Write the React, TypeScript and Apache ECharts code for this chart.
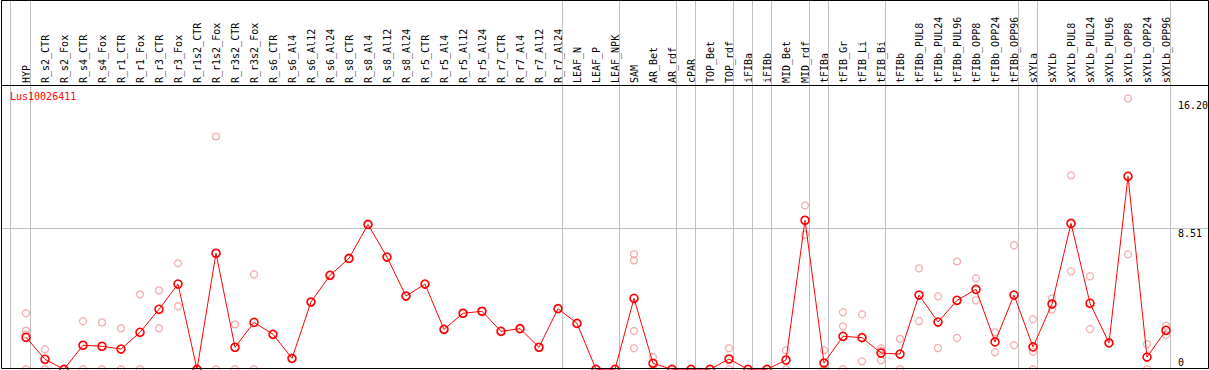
import React, { useEffect, useRef } from "react";
import * as echarts from "echarts";

const TITLE = "Lus10026411";

const CATEGORIES = [
  "HYP", "R_s2_CTR", "R_s2_Fox", "R_s4_CTR", "R_s4_Fox", "R_r1_CTR", "R_r1_Fox", "R_r3_CTR", "R_r3_Fox",
  "R_r1s2_CTR", "R_r1s2_Fox", "R_r3s2_CTR", "R_r3s2_Fox", "R_s6_CTR", "R_s6_Al4", "R_s6_Al12", "R_s6_Al24",
  "R_s8_CTR", "R_s8_Al4", "R_s8_Al12", "R_s8_Al24", "R_r5_CTR", "R_r5_Al4", "R_r5_Al12", "R_r5_Al24",
  "R_r7_CTR", "R_r7_Al4", "R_r7_Al12", "R_r7_Al24", "LEAF_N", "LEAF_P", "LEAF_NPK", "SAM", "AR_Bet", "AR_rdf",
  "cPAR", "TOP_Bet", "TOP_rdf", "iFIBa", "iFIBb", "MID_Bet", "MID_rdf", "tFIBa", "tFIB_Gr", "tFIB_Li", "tFIB_Bi",
  "tFIBb", "tFIBb_PUL8", "tFIBb_PUL24", "tFIBb_PUL96", "tFIBb_OPP8", "tFIBb_OPP24", "tFIBb_OPP96",
  "sXYLa", "sXYLb", "sXYLb_PUL8", "sXYLb_PUL24", "sXYLb_PUL96", "sXYLb_OPP8", "sXYLb_OPP24", "sXYLb_OPP96",
];

const MEANS = [
  1.93, 0.6, 0, 1.45, 1.39, 1.22, 2.23, 3.62, 5.14, 0,
  7.0, 1.33, 2.83, 2.11, 0.66, 4.06, 5.67, 6.69, 8.74, 6.77,
  4.42, 5.14, 2.41, 3.38, 3.5, 2.29, 2.45, 1.33, 3.66, 2.77,
  0, 0, 4.28, 0.36, 0, 0, 0, 0.62, 0, 0,
  0.56, 8.99, 0.38, 1.99, 1.91, 0.98, 0.92, 4.48, 2.85, 4.16,
  4.82, 1.65, 4.48, 1.35, 3.94, 8.8, 3.98, 1.59, 11.64, 0.74, 2.35,
];

const REPLICATES: number[][] = [
  [3.38, 2.33, 2.1, 0], [1.21, 0], [0, 0], [2.9, 0], [2.83, 0], [2.47, 0], [4.52, 0], [4.76, 2.47], [6.39, 3.8], [0, 0],
  [14.05, 0], [2.71, 0], [5.73, 0], [2.11], [0.66], [4.06], [5.67], [6.69], [8.74], [6.77],
  [4.42], [5.14], [2.41], [3.38], [3.5], [2.29], [2.45], [1.33], [3.66], [2.77],
  [0], [0], [6.95, 6.57, 2.31, 1.27], [0.74, 0], [0], [0], [0], [1.27, 0], [0], [0],
  [1.15, 0], [9.89, 8.12], [1.16, 0, 0], [3.44, 2.59, 0], [3.32, 0.48, 1.91], [1.27, 1.12, 0.54], [1.83, 0], [6.09, 2.91], [4.4, 1.28], [6.51, 1.89],
  [5.49, 4.16], [2.23, 1.03], [7.48, 1.45], [3.02, 1.06, 0], [4.28, 3.6], [11.7, 5.91], [5.61, 2.43], [1.59], [16.34, 6.94], [1.51, 0], [2.63, 2.07],
];

// group separators, as fractional category positions
const SEPARATORS = [-0.8, 0.25, 28.25, 31.25, 34.25, 35.25, 37.25, 38.25, 39.25, 41.25, 42.25, 45.25, 52.25, 53.25, 60.25];

const Y_LABELS = [16.2, 8.51, 0];
const Y_GRID = [8.51];

const FONT = "DejaVu Sans Mono";

export default function App() {
  const ref = useRef<HTMLDivElement>(null);

  useEffect(() => {
    if (!ref.current) return;
    const chart = echarts.init(ref.current, null, { renderer: "svg" });

    const scatterData: number[][] = [];
    REPLICATES.forEach((arr, i) => arr.forEach((v) => scatterData.push([i, v])));

    chart.setOption({
      animation: false,
      backgroundColor: "#ffffff",
      grid: { left: 26, right: 43, top: 85, bottom: 0.7, containLabel: false },
      xAxis: {
        type: "category",
        data: CATEGORIES,
        position: "top",
        boundaryGap: false,
        axisLine: { show: false },
        axisTick: { show: false },
        splitLine: { show: false },
        axisLabel: {
          rotate: 90,
          interval: 0,
          margin: 2,
          fontFamily: FONT,
          fontSize: 10,
          color: "#000000",
        },
      },
      yAxis: {
        type: "value",
        min: 0,
        max: 17.15,
        show: false,
      },
      series: [
        {
          type: "custom",
          z: 1,
          silent: true,
          clip: false,
          data: SEPARATORS.map(() => [0, 0]),
          renderItem: (params: any, api: any) => {
            const v = SEPARATORS[params.dataIndex];
            const x0 = api.coord([0, 0])[0];
            const step = api.coord([1, 0])[0] - x0;
            const x = Math.floor(x0 + v * step) + 0.5;
            return {
              type: "line",
              shape: { x1: x, y1: 0, x2: x, y2: 369 },
              style: { stroke: "#c0c0c0", lineWidth: 1 },
            };
          },
        },
        {
          type: "custom",
          z: 1,
          silent: true,
          clip: false,
          data: Y_GRID.map((v) => [0, v]),
          renderItem: (params: any, api: any) => {
            const y = Math.floor(api.coord([0, api.value(1)])[1]) + 0.5;
            return {
              type: "line",
              shape: { x1: 1, y1: y, x2: 1208, y2: y },
              style: { stroke: "#c0c0c0", lineWidth: 1 },
            };
          },
        },
        {
          type: "scatter",
          z: 2,
          data: scatterData,
          symbol: "circle",
          symbolSize: 7,
          itemStyle: { color: "rgba(0,0,0,0)", borderColor: "#f09a9a", borderWidth: 1.3 },
        },
        {
          type: "line",
          z: 3,
          data: MEANS,
          symbol: "circle",
          symbolSize: 8,
          showSymbol: true,
          lineStyle: { color: "#ff0000", width: 1 },
          itemStyle: { color: "rgba(0,0,0,0)", borderColor: "#ff0000", borderWidth: 1.6 },
        },
      ],
    });

    const yLabelElems = Y_LABELS.map((v) => {
      const p = chart.convertToPixel({ gridIndex: 0 }, [0, v]) as number[];
      const isZero = v === 0;
      return {
        type: "text",
        x: 1178,
        y: isZero ? p[1] - 2 : p[1],
        z: 10,
        style: {
          text: isZero ? "0" : v.toFixed(2),
          fontFamily: FONT,
          fontSize: 10,
          fill: "#000000",
          align: "left",
          verticalAlign: isZero ? "bottom" : "top",
        },
      };
    });

    chart.setOption({
      graphic: [
        {
          type: "rect",
          z: 20,
          silent: true,
          shape: { x: 1.5, y: 0.5, width: 1207, height: 368 },
          style: { fill: "none", stroke: "#000000", lineWidth: 1 },
        },
        {
          type: "line",
          z: 20,
          silent: true,
          shape: { x1: 1, y1: 85.5, x2: 1208, y2: 85.5 },
          style: { stroke: "#000000", lineWidth: 1 },
        },
        {
          type: "text",
          x: 10,
          y: 91.5,
          z: 10,
          style: {
            text: TITLE,
            fontFamily: FONT,
            fontSize: 10,
            fill: "#ff0000",
            align: "left",
            verticalAlign: "top",
          },
        },
        ...yLabelElems,
      ],
    });

    return () => chart.dispose();
  }, []);

  return (
    <div
      ref={ref}
      style={{ position: "fixed", left: 0, top: 0, width: 1209, height: 370, background: "#fff" }}
    />
  );
}
